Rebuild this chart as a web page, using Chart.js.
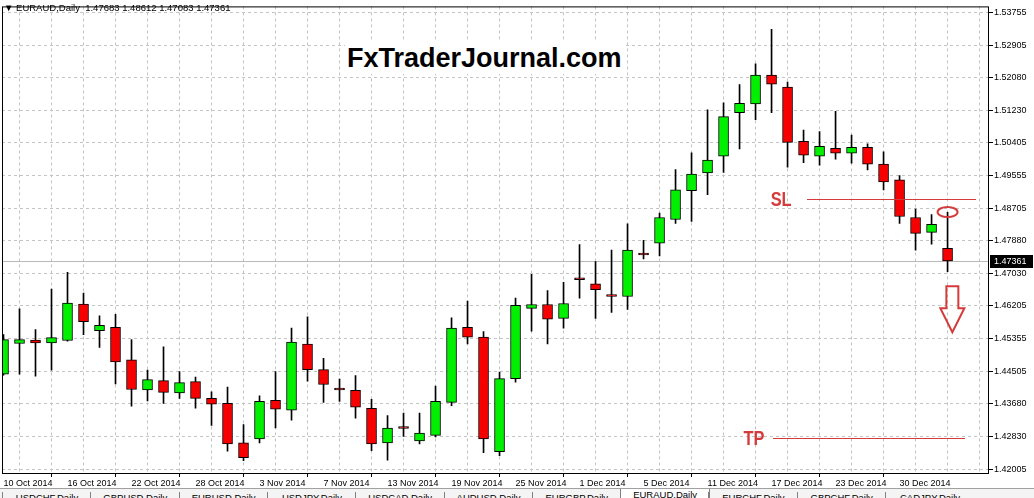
<!DOCTYPE html>
<html>
<head>
<meta charset="utf-8">
<script src="https://cdn.jsdelivr.net/npm/chart.js@4.4.1/dist/chart.umd.min.js"></script>
<style>
  html, body { margin: 0; padding: 0; background: #fff; }
  #wrap { position: relative; width: 1034px; height: 498px; overflow: hidden; font-family: "Liberation Sans", Arial, sans-serif; }
  #box { position: absolute; left: 0; top: 0; width: 1034px; height: 488px; }
  .hdr { position: absolute; left: 4px; top: 2px; font-size: 9.5px; color: #000; white-space: pre; }
  .mark { position: absolute; left: 345px; top: 42px; padding: 0 2px; font: bold 27px "Liberation Sans", Arial, sans-serif; color: #000; background: #fff; line-height: 32px; }
  .tabs { position: absolute; left: 0; top: 488px; width: 1034px; height: 10px; background: #f4f4f4; border-top: 1px solid #a0a0a0; }
  .tab { position: absolute; top: 3px; font-size: 9.5px; color: #000; text-align: center; border-left: 1px solid #808080; height: 10px; }
  .tab.on { background: #fff; top: 0; border: 1px solid #808080; border-top: none; }
</style>
</head>
<body>
<div id="wrap">
  <div id="box"><canvas id="chart" width="1034" height="488"></canvas></div>
  <div class="hdr">&#9660; EURAUD,Daily  1.47683 1.48612 1.47083 1.47361</div>
  <div class="mark">FxTraderJournal.com</div>
  <div class="tabs" id="tabs"></div>
</div>
<script>
// EURAUD daily candles, 10 Oct 2014 - 5 Jan 2015

// DATA
// ============================================================
const dates = [
  '10 Oct 2014','13 Oct 2014','14 Oct 2014','15 Oct 2014','16 Oct 2014','17 Oct 2014','20 Oct 2014','21 Oct 2014',
  '22 Oct 2014','23 Oct 2014','24 Oct 2014','27 Oct 2014','28 Oct 2014','29 Oct 2014','30 Oct 2014','31 Oct 2014',
  '3 Nov 2014','4 Nov 2014','5 Nov 2014','6 Nov 2014','7 Nov 2014','10 Nov 2014','11 Nov 2014','12 Nov 2014',
  '13 Nov 2014','14 Nov 2014','17 Nov 2014','18 Nov 2014','19 Nov 2014','20 Nov 2014','21 Nov 2014','24 Nov 2014',
  '25 Nov 2014','26 Nov 2014','27 Nov 2014','28 Nov 2014','1 Dec 2014','2 Dec 2014','3 Dec 2014','4 Dec 2014',
  '5 Dec 2014','8 Dec 2014','9 Dec 2014','10 Dec 2014','11 Dec 2014','12 Dec 2014','15 Dec 2014','16 Dec 2014',
  '17 Dec 2014','18 Dec 2014','19 Dec 2014','22 Dec 2014','23 Dec 2014','24 Dec 2014','26 Dec 2014','29 Dec 2014',
  '30 Dec 2014','31 Dec 2014','2 Jan 2015','5 Jan 2015'
];
const opens = [
  1.44446, 1.45235, 1.45324, 1.45247, 1.45311, 1.46252, 1.45565, 1.45654, 1.44815, 1.44039,
  1.44281, 1.43963, 1.44256, 1.43823, 1.43696, 1.42679, 1.42781, 1.43772, 1.43518, 1.45222,
  1.44561, 1.44090, 1.44027, 1.43569, 1.42679, 1.43098, 1.42730, 1.42870, 1.43722, 1.45654,
  1.45400, 1.42450, 1.44332, 1.46137, 1.46239, 1.45883, 1.46926, 1.46773, 1.46493, 1.46443,
  1.47562, 1.47816, 1.48426, 1.49164, 1.49621, 1.50054, 1.51173, 1.51401, 1.52139, 1.51834,
  1.50435, 1.50054, 1.50257, 1.50130, 1.50282, 1.49850, 1.49443, 1.48477, 1.48096, 1.47683
];
const highs = [
  1.45463, 1.46125, 1.45591, 1.46633, 1.47066, 1.46532, 1.45947, 1.45985, 1.45336, 1.44548,
  1.45146, 1.44510, 1.44370, 1.43989, 1.44116, 1.43149, 1.43887, 1.44510, 1.45629, 1.45921,
  1.44853, 1.44319, 1.44408, 1.43798, 1.43378, 1.43442, 1.43442, 1.44141, 1.45896, 1.46328,
  1.45540, 1.44497, 1.46404, 1.47015, 1.46595, 1.46811, 1.47778, 1.47345, 1.47638, 1.48312,
  1.47892, 1.48591, 1.49710, 1.50143, 1.51249, 1.51427, 1.51897, 1.52431, 1.53321, 1.51961,
  1.50727, 1.50689, 1.51211, 1.50600, 1.50371, 1.50168, 1.49558, 1.48693, 1.48553, 1.48612
];
const lows = [
  1.44421, 1.44446, 1.44395, 1.44548, 1.45298, 1.45463, 1.45133, 1.44192, 1.43620, 1.43760,
  1.43696, 1.43823, 1.43569, 1.43124, 1.42463, 1.42221, 1.42679, 1.43060, 1.43264, 1.44268,
  1.43722, 1.43747, 1.43315, 1.42475, 1.42234, 1.42844, 1.42653, 1.42831, 1.43633, 1.45222,
  1.42425, 1.42348, 1.44243, 1.45552, 1.45222, 1.45629, 1.46404, 1.45883, 1.46036, 1.46112,
  1.47409, 1.47485, 1.48324, 1.48375, 1.49062, 1.49634, 1.50244, 1.50995, 1.51173, 1.49774,
  1.49888, 1.49825, 1.49977, 1.49876, 1.49698, 1.49189, 1.48324, 1.47638, 1.47790, 1.47083
];
const closes = [
  1.45336, 1.45336, 1.45247, 1.45387, 1.46277, 1.45794, 1.45705, 1.44764, 1.44052, 1.44306,
  1.43976, 1.44230, 1.43823, 1.43671, 1.42653, 1.42297, 1.43747, 1.43544, 1.45273, 1.44561,
  1.44179, 1.44040, 1.43594, 1.42653, 1.43060, 1.43048, 1.42933, 1.43747, 1.45629, 1.45400,
  1.42781, 1.44332, 1.46214, 1.46239, 1.45858, 1.46265, 1.46875, 1.46621, 1.46443, 1.47638,
  1.47511, 1.48477, 1.49189, 1.49596, 1.49952, 1.51071, 1.51414, 1.52139, 1.51910, 1.50410,
  1.50079, 1.50308, 1.50130, 1.50282, 1.49850, 1.49392, 1.48502, 1.48070, 1.48299, 1.47361
];
const priceTicks = [
  1.53755, 1.52905, 1.52080, 1.51230, 1.50405, 1.49555, 1.48705, 1.47880,
  1.47030, 1.46205, 1.45355, 1.44505, 1.43680, 1.42830, 1.42005
];
const tabNames = [
  'USDCHF,Daily','GBPUSD,Daily','EURUSD,Daily','USDJPY,Daily','USDCAD,Daily','AUDUSD,Daily',
  'EURGBP,Daily','EURAUD,Daily','EURCHF,Daily','GBPCHF,Daily','CADJPY,Daily'
];

// trade marks drawn on the chart (bar index / price)
const slLevel = { price: 1.48947, from: 50.2, to: 60.8, labelAt: 48.6 };
const tpLevel = { price: 1.42793, from: 48.1, to: 60.1, labelAt: 46.9 };
const circleAt = { x: 59, price: 1.48617 };
const arrowAt = { x: 59.3, price: 1.46710 };

// STYLE
// ============================================================
const UP = '#00f000';
const DOWN = '#f80000';
const GRID = '#c4c4c4';
const MARK = '#d43c3c';
const AXIS_FONT = { family: '"Liberation Sans", Arial, sans-serif', size: 9 };

const lastClose = closes[closes.length - 1];

const overlay = {
  id: 'overlay',
  beforeDatasetsDraw(chart) {
    const { ctx, chartArea: a, scales: { y } } = chart;
    const py = Math.round(y.getPixelForValue(lastClose));
    ctx.save();
    ctx.fillStyle = '#b8b8b8';
    ctx.fillRect(a.left, py, a.right - a.left, 1);
    ctx.restore();
  },
  afterDraw(chart) {
    const { ctx, chartArea: a, scales: { x, y } } = chart;
    ctx.save();
    // frame
    ctx.strokeStyle = '#000'; ctx.lineWidth = 1;
    ctx.strokeRect(a.left + 0.5, a.top + 0.5, a.right - a.left - 1, a.bottom - a.top);

    // last price tag
    const py = Math.round(y.getPixelForValue(lastClose));
    ctx.fillStyle = '#000';
    ctx.fillRect(a.right + 1, py - 6, 43, 13);
    ctx.fillStyle = '#fff';
    ctx.font = '9px "Liberation Sans", Arial, sans-serif';
    ctx.textBaseline = 'middle';
    ctx.fillText(lastClose.toFixed(5), a.right + 5, py + 1);

    // SL / TP lines
    [[slLevel, 'SL'], [tpLevel, 'TP']].forEach(([lv, txt]) => {
      const ly = Math.round(y.getPixelForValue(lv.price));
      const x1 = Math.round(x.getPixelForValue(lv.from));
      const x2 = Math.round(x.getPixelForValue(lv.to));
      ctx.fillStyle = MARK;
      ctx.fillRect(x1, ly, x2 - x1, 1);
      ctx.save();
      ctx.translate(x.getPixelForValue(lv.labelAt), ly);
      ctx.scale(0.82, 1);
      ctx.font = 'bold 20px "Liberation Sans", Arial, sans-serif';
      ctx.textAlign = 'center';
      ctx.textBaseline = 'middle';
      ctx.fillText(txt, 0, 1);
      ctx.restore();
    });

    // circle on the last high
    ctx.strokeStyle = MARK;
    ctx.lineWidth = 2;
    ctx.beginPath();
    ctx.ellipse(x.getPixelForValue(circleAt.x), y.getPixelForValue(circleAt.price), 10, 5, 0, 0, Math.PI * 2);
    ctx.stroke();

    // down arrow
    const ax = x.getPixelForValue(arrowAt.x), ay = y.getPixelForValue(arrowAt.price);
    ctx.beginPath();
    ctx.moveTo(ax - 6, ay); ctx.lineTo(ax + 6, ay); ctx.lineTo(ax + 6, ay + 22);
    ctx.lineTo(ax + 12, ay + 22); ctx.lineTo(ax, ay + 46); ctx.lineTo(ax - 12, ay + 22);
    ctx.lineTo(ax - 6, ay + 22); ctx.closePath();
    ctx.stroke();
    ctx.restore();
  }
};

const wickData = dates.map((d, i) => ({ x: i, y: [lows[i], highs[i]] }));
const bodyData = dates.map((d, i) => ({ x: i, y: [opens[i], closes[i]] }));

new Chart(document.getElementById('chart'), {
  type: 'bar',
  data: {
    datasets: [
      { label: 'wick', data: wickData, backgroundColor: '#000', barThickness: 1, grouped: false, order: 2 },
      { label: 'body', data: bodyData, grouped: false, order: 1, barThickness: 10,
        backgroundColor: bodyData.map((b, i) => closes[i] > opens[i] ? UP : DOWN),
        borderColor: '#000', borderWidth: 1, borderSkipped: false }
    ]
  },
  options: {
    responsive: false,
    animation: false,
    layout: { padding: { top: 1, left: 2, right: 0, bottom: 0 } },
    plugins: { legend: { display: false }, tooltip: { enabled: false } },
    scales: {
      x: {
        type: 'linear', min: -0.094, max: 61.59, offset: false,
        afterBuildTicks: s => { const t = []; for (let i = 0; i <= 60; i += 2) t.push({ value: i }); s.ticks = t; },
        afterFit: s => { s.height = 15; },
        ticks: {
          autoSkip: false, maxRotation: 0, align: 'start', padding: 1, color: '#000', font: AXIS_FONT,
          callback: v => (v % 4 === 0 && dates[v]) ? dates[v] : ''
        },
        grid: {
          color: GRID, tickLength: 4,
          tickColor: c => (c.tick && c.tick.value % 4 === 0 && c.tick.value < dates.length) ? '#000' : 'rgba(0,0,0,0)'
        },
        border: { display: false, dash: [3, 3] }
      },
      y: {
        position: 'right', min: 1.41903, max: 1.53908,
        afterBuildTicks: s => { s.ticks = priceTicks.map(v => ({ value: v })); },
        afterFit: s => { s.width = 45; },
        ticks: { padding: 1, color: '#000', font: AXIS_FONT, callback: v => v.toFixed(5) },
        grid: { color: GRID, tickColor: '#000', tickLength: 4 },
        border: { display: false, dash: [3, 3] }
      }
    }
  },
  plugins: [overlay]
});

// terminal tab strip under the chart
const tabs = document.getElementById('tabs');
tabNames.forEach((n, i) => {
  const el = document.createElement('div');
  el.className = 'tab' + (n === 'EURAUD,Daily' ? ' on' : '');
  el.style.left = (2 + i * 88.3) + 'px';
  el.style.width = '88px';
  el.textContent = n;
  tabs.appendChild(el);
});
</script>
</body>
</html>
